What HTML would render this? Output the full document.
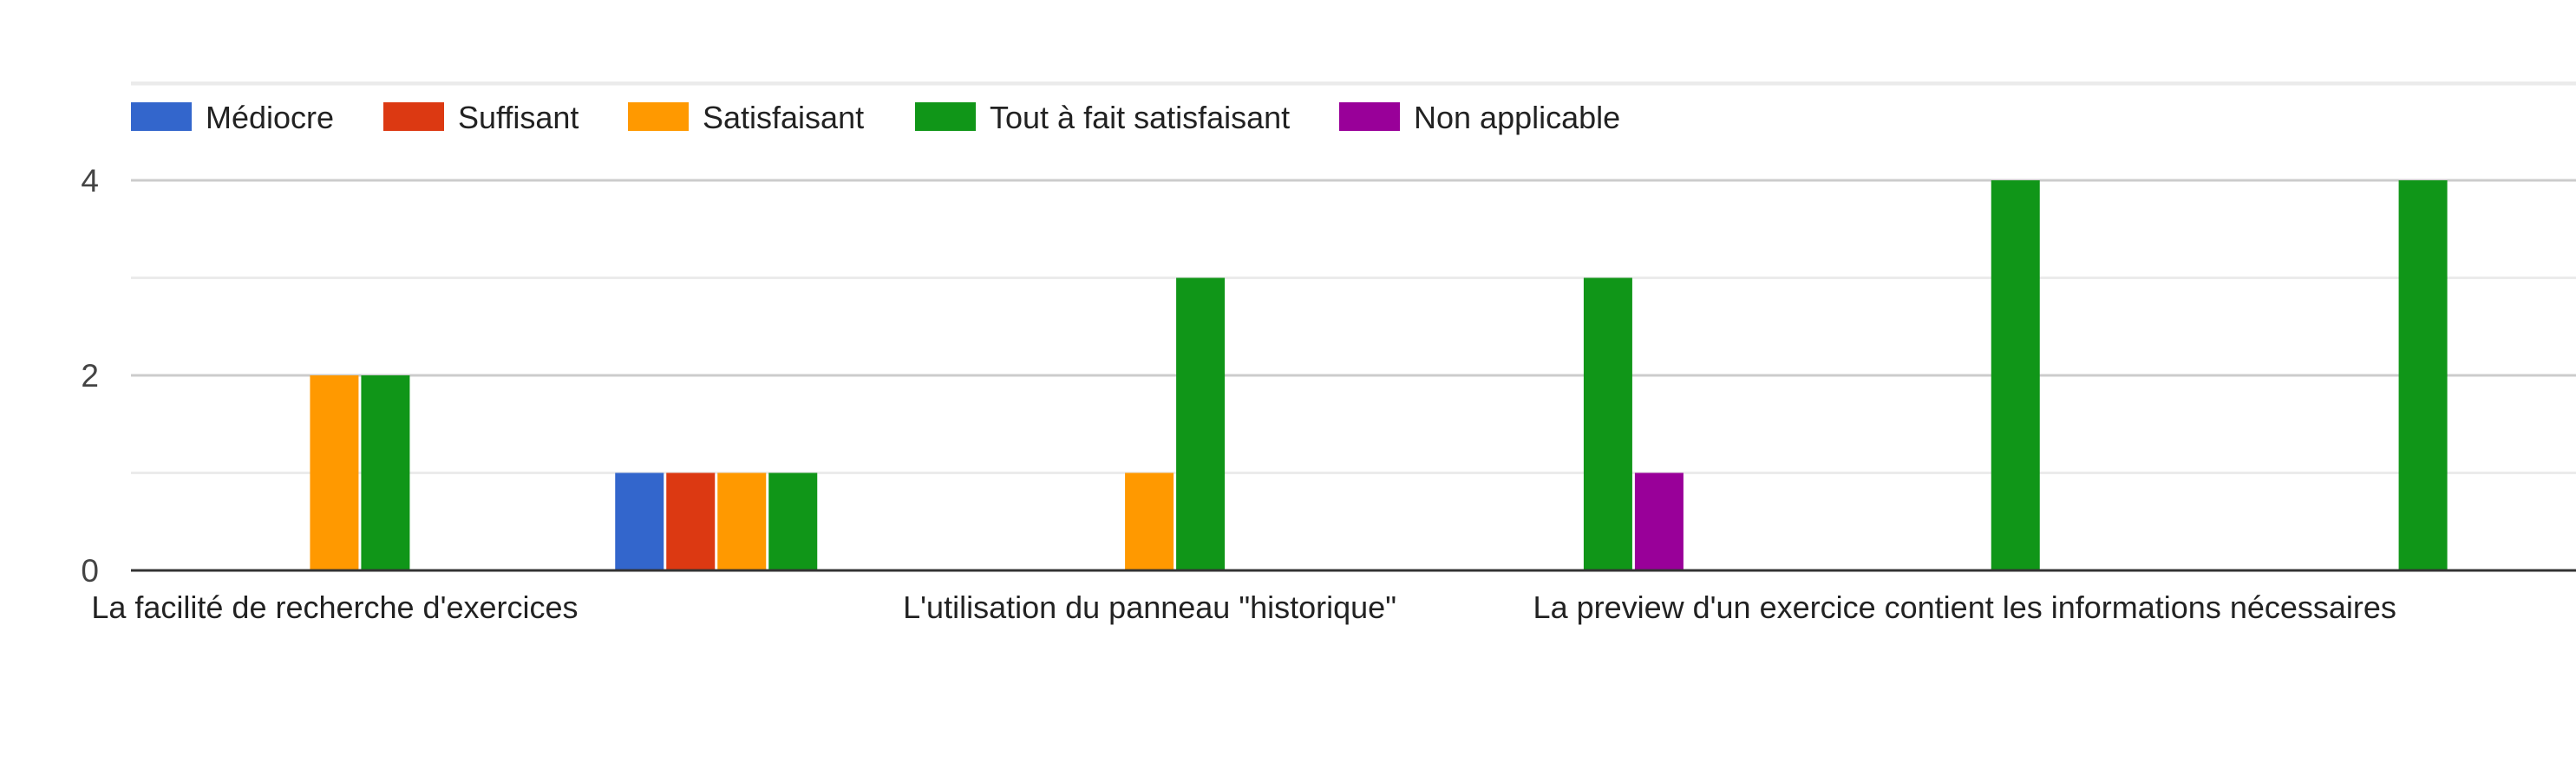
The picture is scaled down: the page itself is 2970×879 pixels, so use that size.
<!DOCTYPE html>
<html><head><meta charset="utf-8"><style>
html,body{margin:0;padding:0;background:#fff;width:2970px;height:879px;overflow:hidden}
svg{display:block;font-family:"Liberation Sans",Arial,sans-serif}
</style></head><body>
<svg id="chart" width="2970" height="879" xmlns="http://www.w3.org/2000/svg"></svg>
<script>
const categories = ["La facilité de recherche d'exercices","Catégorie 2","L'utilisation du panneau \"historique\"","Catégorie 4","La preview d'un exercice contient les informations nécessaires","Catégorie 6"];
const showLabel = [true,false,true,false,true,false];
const seriesNames = ["Médiocre","Suffisant","Satisfaisant","Tout à fait satisfaisant","Non applicable"];
const seriesColors = ["#3366cc","#dc3912","#ff9900","#109618","#990099"];
const mediocre = [0,1,0,0,0,0];
const suffisant = [0,1,0,0,0,0];
const satisfaisant = [2,1,1,0,0,0];
const toutAFait = [2,1,3,3,4,4];
const nonApplicable = [0,0,0,1,0,0];
const series = [mediocre,suffisant,satisfaisant,toutAFait,nonApplicable];
const yTicks = [0,1,2,3,4,5];
const yTickLabels = ["0","","2","","4",""];

const NS="http://www.w3.org/2000/svg";
const svg=document.getElementById('chart');
const L=151,R=2970,Y0=658,unit=112.5;
const y=v=>Y0-v*unit;
const band=(R-L)/categories.length;
const cx=i=>L+band*(i+0.5);
const step=59,bw=56;
function mk(t,a){const e=document.createElementNS(NS,t);for(const k in a)e.setAttribute(k,a[k]);svg.appendChild(e);return e;}

yTicks.forEach((t,i)=>{
  if(t===0)return;
  const g=mk('line',{x1:L,x2:R,y1:y(t),y2:y(t),stroke:(t%2===0)?'#cccccc':'#ebebeb','stroke-width':3});
  
  
  if(yTickLabels[i]){
    const tx=mk('text',{x:114,y:y(t)+13,'text-anchor':'end','font-size':37,fill:'#444'});
    tx.textContent=yTickLabels[i];
    
    
  }
});
const zeroLabel=mk('text',{x:114,y:Y0+13,'text-anchor':'end','font-size':37,fill:'#444'});zeroLabel.textContent="0";



series.forEach((vals,s)=>{
  vals.forEach((v,i)=>{
    if(v<=0)return;
    const x=cx(i)-2.5*step+s*step+1;
    const r=mk('rect',{x:x,y:y(v),width:bw,height:Y0-y(v),fill:seriesColors[s]});
    
    
  });
});
const ax=mk('line',{x1:L,x2:R,y1:Y0,y2:Y0,stroke:'#333','stroke-width':3});



categories.forEach((c,i)=>{
  if(!showLabel[i])return;
  const t=mk('text',{x:cx(i),y:713,'text-anchor':'middle','font-size':36,fill:'#222'});
  t.textContent=c;
  
  
});

const topLine=mk('line',{x1:L,x2:R,y1:97,y2:97,stroke:'#ebebeb','stroke-width':3});



const legX=[151,442,724,1055,1544];
seriesNames.forEach((n,s)=>{
  const r=mk('rect',{x:legX[s],y:118,width:70,height:33,fill:seriesColors[s]});
  
  
  const t=mk('text',{x:legX[s]+86,y:148,'font-size':36,fill:'#222'});
  t.textContent=n;
  
  
});
</script>
</body></html>
